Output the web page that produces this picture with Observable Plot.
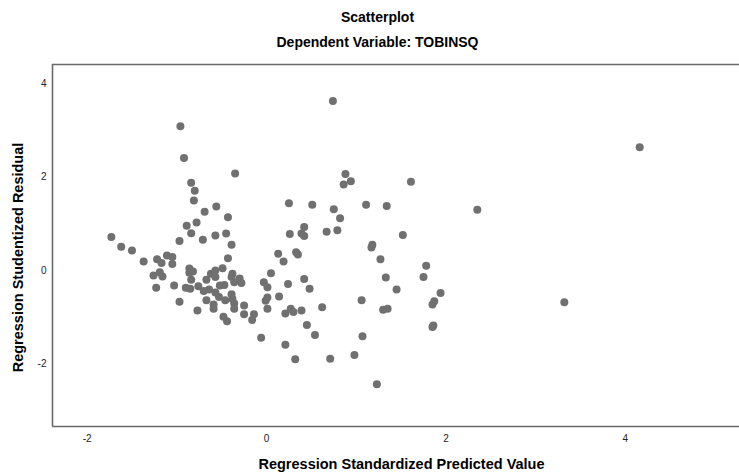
<!DOCTYPE html>
<html><head><meta charset="utf-8">
<script src="https://cdn.jsdelivr.net/npm/d3@7"></script>
<script src="https://cdn.jsdelivr.net/npm/@observablehq/plot@0.6"></script>
<style>
body{margin:0;background:#fff;font-family:"Liberation Sans",Arial,sans-serif;}
#wrap{position:relative;width:739px;height:473px;overflow:hidden;background:#fff;}
.t{position:absolute;left:0;width:755px;text-align:center;font-weight:bold;font-size:14px;color:#000;line-height:16px;}
</style></head><body>
<div id="wrap">
<div class="t" style="top:9px">Scatterplot</div>
<div class="t" style="top:34px">Dependent Variable: TOBINSQ</div>
<div id="chart" style="position:absolute;left:0;top:56px"></div>
</div>
<script>
const predicted = [
-0.96,-0.92,-0.35,-0.84,-0.80,-0.81,-0.69,-0.56,-0.43,0.25,
-0.89,-0.78,-0.84,-1.73,-0.97,-0.71,-0.57,-0.45,0.26,-1.62,
-0.39,-1.50,-1.37,-1.22,-1.17,-1.11,-1.05,-1.05,-0.43,-1.26,
-1.19,-1.16,-1.23,-1.03,-0.97,-0.86,-0.82,-0.86,-0.84,-0.90,
-0.85,-0.76,-0.77,-0.67,-0.62,-0.57,-0.57,-0.49,-0.70,-0.64,
-0.67,-0.52,-0.47,-0.57,-0.53,-0.59,-0.59,-0.46,-0.39,-0.38,
-0.39,-0.36,-0.30,-0.28,-0.38,-0.36,-0.36,-0.25,-0.25,-0.48,
-0.44,-0.16,-0.14,-0.06,-0.03,0.01,0.05,0.13,0.19,0.24,
0.14,-0.01,0.01,0.01,0.21,0.27,0.30,0.39,0.21,0.32,
0.42,0.48,0.33,0.35,0.45,0.54,0.62,0.71,0.39,0.42,
0.42,0.51,0.67,0.79,0.75,0.82,0.74,0.88,0.94,0.86,
1.11,1.34,1.61,1.52,1.18,1.17,1.27,1.33,1.45,1.06,
1.30,1.35,1.07,0.98,1.23,1.78,1.75,1.94,1.87,1.85,
1.85,1.86,2.35,4.16,3.32
];
const residual = [
3.09,2.41,2.08,1.88,1.71,1.50,1.26,1.37,1.14,1.44,
0.96,1.03,0.80,0.72,0.63,0.66,0.75,0.79,0.78,0.51,
0.55,0.43,0.19,0.24,0.16,0.32,0.29,0.14,0.26,-0.11,
-0.04,-0.13,-0.37,-0.32,-0.67,0.04,-0.02,-0.05,-0.20,-0.37,
-0.39,-0.34,-0.86,-0.20,-0.07,0.00,-0.14,0.05,-0.44,-0.41,
-0.64,-0.32,-0.31,-0.47,-0.57,-0.73,-0.82,-0.64,-0.51,-0.07,
-0.14,-0.25,-0.17,-0.27,-0.61,-0.71,-0.82,-0.75,-0.94,-0.99,
-1.09,-1.06,-0.94,-1.44,-0.25,-0.36,-0.06,0.36,0.19,-0.29,
-0.56,-0.65,-0.58,-0.82,-0.92,-0.82,-0.89,-0.86,-1.59,-1.90,
-0.18,-0.39,0.39,0.34,-1.17,-1.38,-0.79,-1.89,0.79,0.74,
0.93,1.41,0.83,0.86,1.31,1.12,3.63,2.07,1.91,1.84,
1.41,1.38,1.90,0.76,0.55,0.49,0.24,-0.15,-0.41,-0.64,
-0.84,-0.82,-1.41,-1.81,-2.44,0.10,-0.14,-0.48,-0.66,-0.73,
-1.21,-1.18,1.30,2.64,-0.68
];
const xTicks = [-2, 0, 2, 4];
const yTicks = [-2, 0, 2, 4];
const xTitle = "Regression Standardized Predicted Value";
const yTitle = "Regression Studentized Residual";

const xDomain = [-2.386, 5.273];
const yDomain = [-3.343, 4.414];
const points = predicted.map((p, i) => ({p, r: residual[i]}));

const chart = Plot.plot({
  width: 739,
  height: 417,
  marginLeft: 52,
  marginRight: 0,
  marginTop: 8,
  marginBottom: 47,
  style: {fontFamily: '"Liberation Sans", Arial, sans-serif', fontSize: "10px", color: "#222", background: "transparent"},
  x: {domain: xDomain, ticks: xTicks, tickSize: 0, tickPadding: 8, label: null, tickFormat: d => String(d)},
  y: {domain: yDomain, ticks: yTicks, tickSize: 0, tickPadding: 6, label: null, tickFormat: d => String(d)},
  marks: [
    Plot.ruleX([xDomain[0]], {stroke: "#6a6a6a", strokeWidth: 1.6}),
    Plot.ruleY([yDomain[1]], {stroke: "#6a6a6a", strokeWidth: 1.6}),
    Plot.ruleY([yDomain[0]], {stroke: "#6a6a6a", strokeWidth: 1.6}),
    Plot.dot(points, {x: "p", y: "r", r: 4, fill: "#707070", stroke: "none"}),
    Plot.text([xTitle], {text: d => d, frameAnchor: "bottom", dy: 42, dx: 5.5, fontWeight: "bold", fontSize: 14.5, fill: "#000"}),
    Plot.text([yTitle], {text: d => d, frameAnchor: "left", textAnchor: "middle", rotate: -90, dx: -34, dy: 12, fontWeight: "bold", fontSize: 14.5, fill: "#000"})
  ]
});
document.getElementById("chart").appendChild(chart);
</script>
</body></html>
